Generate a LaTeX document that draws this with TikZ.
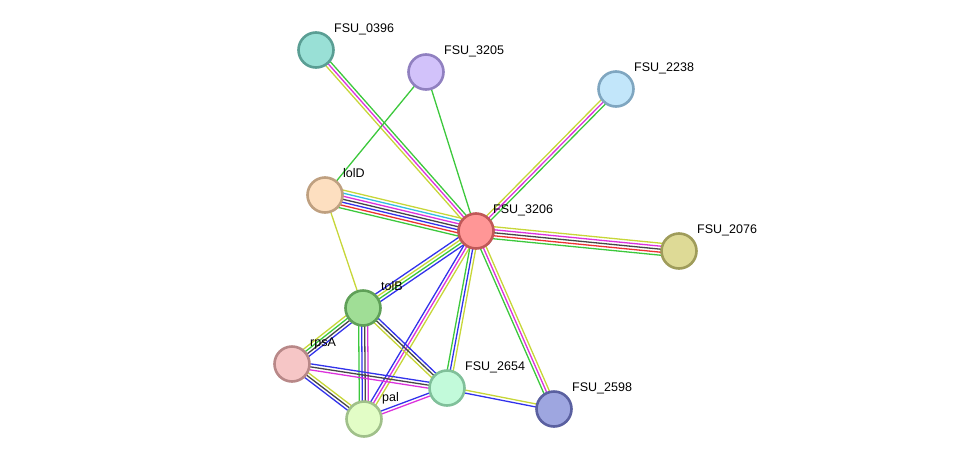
\documentclass[tikz,border=0pt]{standalone}
\usepackage{fontspec}
\setmainfont{Liberation Sans}
\usetikzlibrary{calc,backgrounds}

% evidence colours
\definecolor{tm}{RGB}{199,214,56}
\definecolor{nb}{RGB}{60,200,60}
\definecolor{ex}{RGB}{220,50,220}
\definecolor{co}{RGB}{70,70,70}
\definecolor{cc}{RGB}{50,50,235}
\definecolor{fu}{RGB}{235,50,50}
\definecolor{db}{RGB}{50,190,225}

\tikzset{
  prot/.style={circle, minimum size=35pt, inner sep=0pt, line width=2.6pt},
  lbl/.style={anchor=base west, inner sep=0pt, font=\fontsize{12.5}{14}\selectfont},
  evid/.style={line width=1.3pt}
}

% parallel coloured lines between two nodes
\newcommand\multiedge[3]{%
  \gdef\nlines{0}%
  \foreach \c in {#3}{\pgfmathtruncatemacro\tmp{\nlines+1}\global\let\nlines\tmp}%
  \foreach \c [count=\i] in {#3}{%
    \pgfmathsetmacro\off{((\nlines+1)/2-\i)*3}%
    \draw[evid, \c] ($(#1)!\off pt!90:(#2)$) -- ($(#2)!\off pt!-90:(#1)$);}%
}

\begin{document}
\begin{tikzpicture}[x=1pt, y=-1pt]
	\useasboundingbox (0,0) rectangle (975,464);

	% proteins
	\node[prot, fill={rgb,255:red,153;green,224;blue,214}, draw={rgb,255:red,90;green,158;blue,148}] (f0396) at (316,50) {};
	\node[prot, fill={rgb,255:red,210;green,194;blue,250}, draw={rgb,255:red,144;green,128;blue,192}] (f3205) at (426,72) {};
	\node[prot, fill={rgb,255:red,194;green,230;blue,250}, draw={rgb,255:red,127;green,166;blue,192}] (f2238) at (616,89) {};
	\node[prot, fill={rgb,255:red,253;green,223;blue,192}, draw={rgb,255:red,191;green,160;blue,128}] (lolD) at (325,195) {};
	\node[prot, fill={rgb,255:red,255;green,150;blue,150}, draw={rgb,255:red,192;green,88;blue,88}] (f3206) at (476,231) {};
	\node[prot, fill={rgb,255:red,222;green,218;blue,150}, draw={rgb,255:red,159;green,156;blue,90}] (f2076) at (679,251) {};
	\node[prot, fill={rgb,255:red,160;green,222;blue,150}, draw={rgb,255:red,95;green,160;blue,88}] (tolB) at (363,308) {};
	\node[prot, fill={rgb,255:red,246;green,198;blue,198}, draw={rgb,255:red,184;green,136;blue,136}] (rpsA) at (292,364) {};
	\node[prot, fill={rgb,255:red,194;green,250;blue,218}, draw={rgb,255:red,128;green,192;blue,154}] (f2654) at (447,388) {};
	\node[prot, fill={rgb,255:red,158;green,166;blue,224}, draw={rgb,255:red,90;green,96;blue,160}] (f2598) at (554,409) {};
	\node[prot, fill={rgb,255:red,226;green,253;blue,198}, draw={rgb,255:red,160;green,192;blue,138}] (pal) at (364,419) {};

	% names
	\node[lbl] (t0396) at ([shift={(18,-18)}]f0396) {FSU\_0396};
	\node[lbl] (t3205) at ([shift={(18,-18)}]f3205) {FSU\_3205};
	\node[lbl] (t2238) at ([shift={(18,-18)}]f2238) {FSU\_2238};
	\node[lbl] (tlolD) at ([shift={(18,-18)}]lolD) {lolD};
	\node[lbl] (t3206) at ([shift={(17,-18)}]f3206) {FSU\_3206};
	\node[lbl] (t2076) at ([shift={(18,-18)}]f2076) {FSU\_2076};
	\node[lbl] (ttolB) at ([shift={(18,-18)}]tolB) {tolB};
	\node[lbl] (trpsA) at ([shift={(18,-18)}]rpsA) {rpsA};
	\node[lbl] (t2654) at ([shift={(18,-18)}]f2654) {FSU\_2654};
	\node[lbl] (t2598) at ([shift={(18,-18)}]f2598) {FSU\_2598};
	\node[lbl] (tpal) at ([shift={(18,-18)}]pal) {pal};

	% interactions
	\begin{scope}[on background layer]
		\multiedge{f0396}{f3206}{nb,ex,tm}
		\multiedge{f3205}{lolD}{nb}
		\multiedge{f3205}{f3206}{nb}
		\multiedge{f2238}{f3206}{nb,ex,tm}
		\multiedge{lolD}{f3206}{tm,db,ex,co,cc,fu,nb}
		\multiedge{lolD}{tolB}{tm}
		\multiedge{f3206}{f2076}{tm,ex,co,fu,nb}
		\multiedge{f3206}{tolB}{cc,nb,tm,cc}
		\multiedge{rpsA}{tolB}{tm,nb,co,cc}
		\multiedge{f3206}{pal}{tm,ex,cc}
		\multiedge{f3206}{f2654}{tm,cc,nb}
		\multiedge{f3206}{f2598}{tm,ex,nb}
		\multiedge{tolB}{pal}{ex,co,cc,nb}
		\multiedge{tolB}{f2654}{cc,co,tm}
		\multiedge{rpsA}{f2654}{cc,co,ex}
		\multiedge{rpsA}{pal}{tm,co,cc}
		\multiedge{pal}{f2654}{cc,ex}
		\multiedge{f2654}{f2598}{tm,cc}
	\end{scope}
\end{tikzpicture}
\end{document}
